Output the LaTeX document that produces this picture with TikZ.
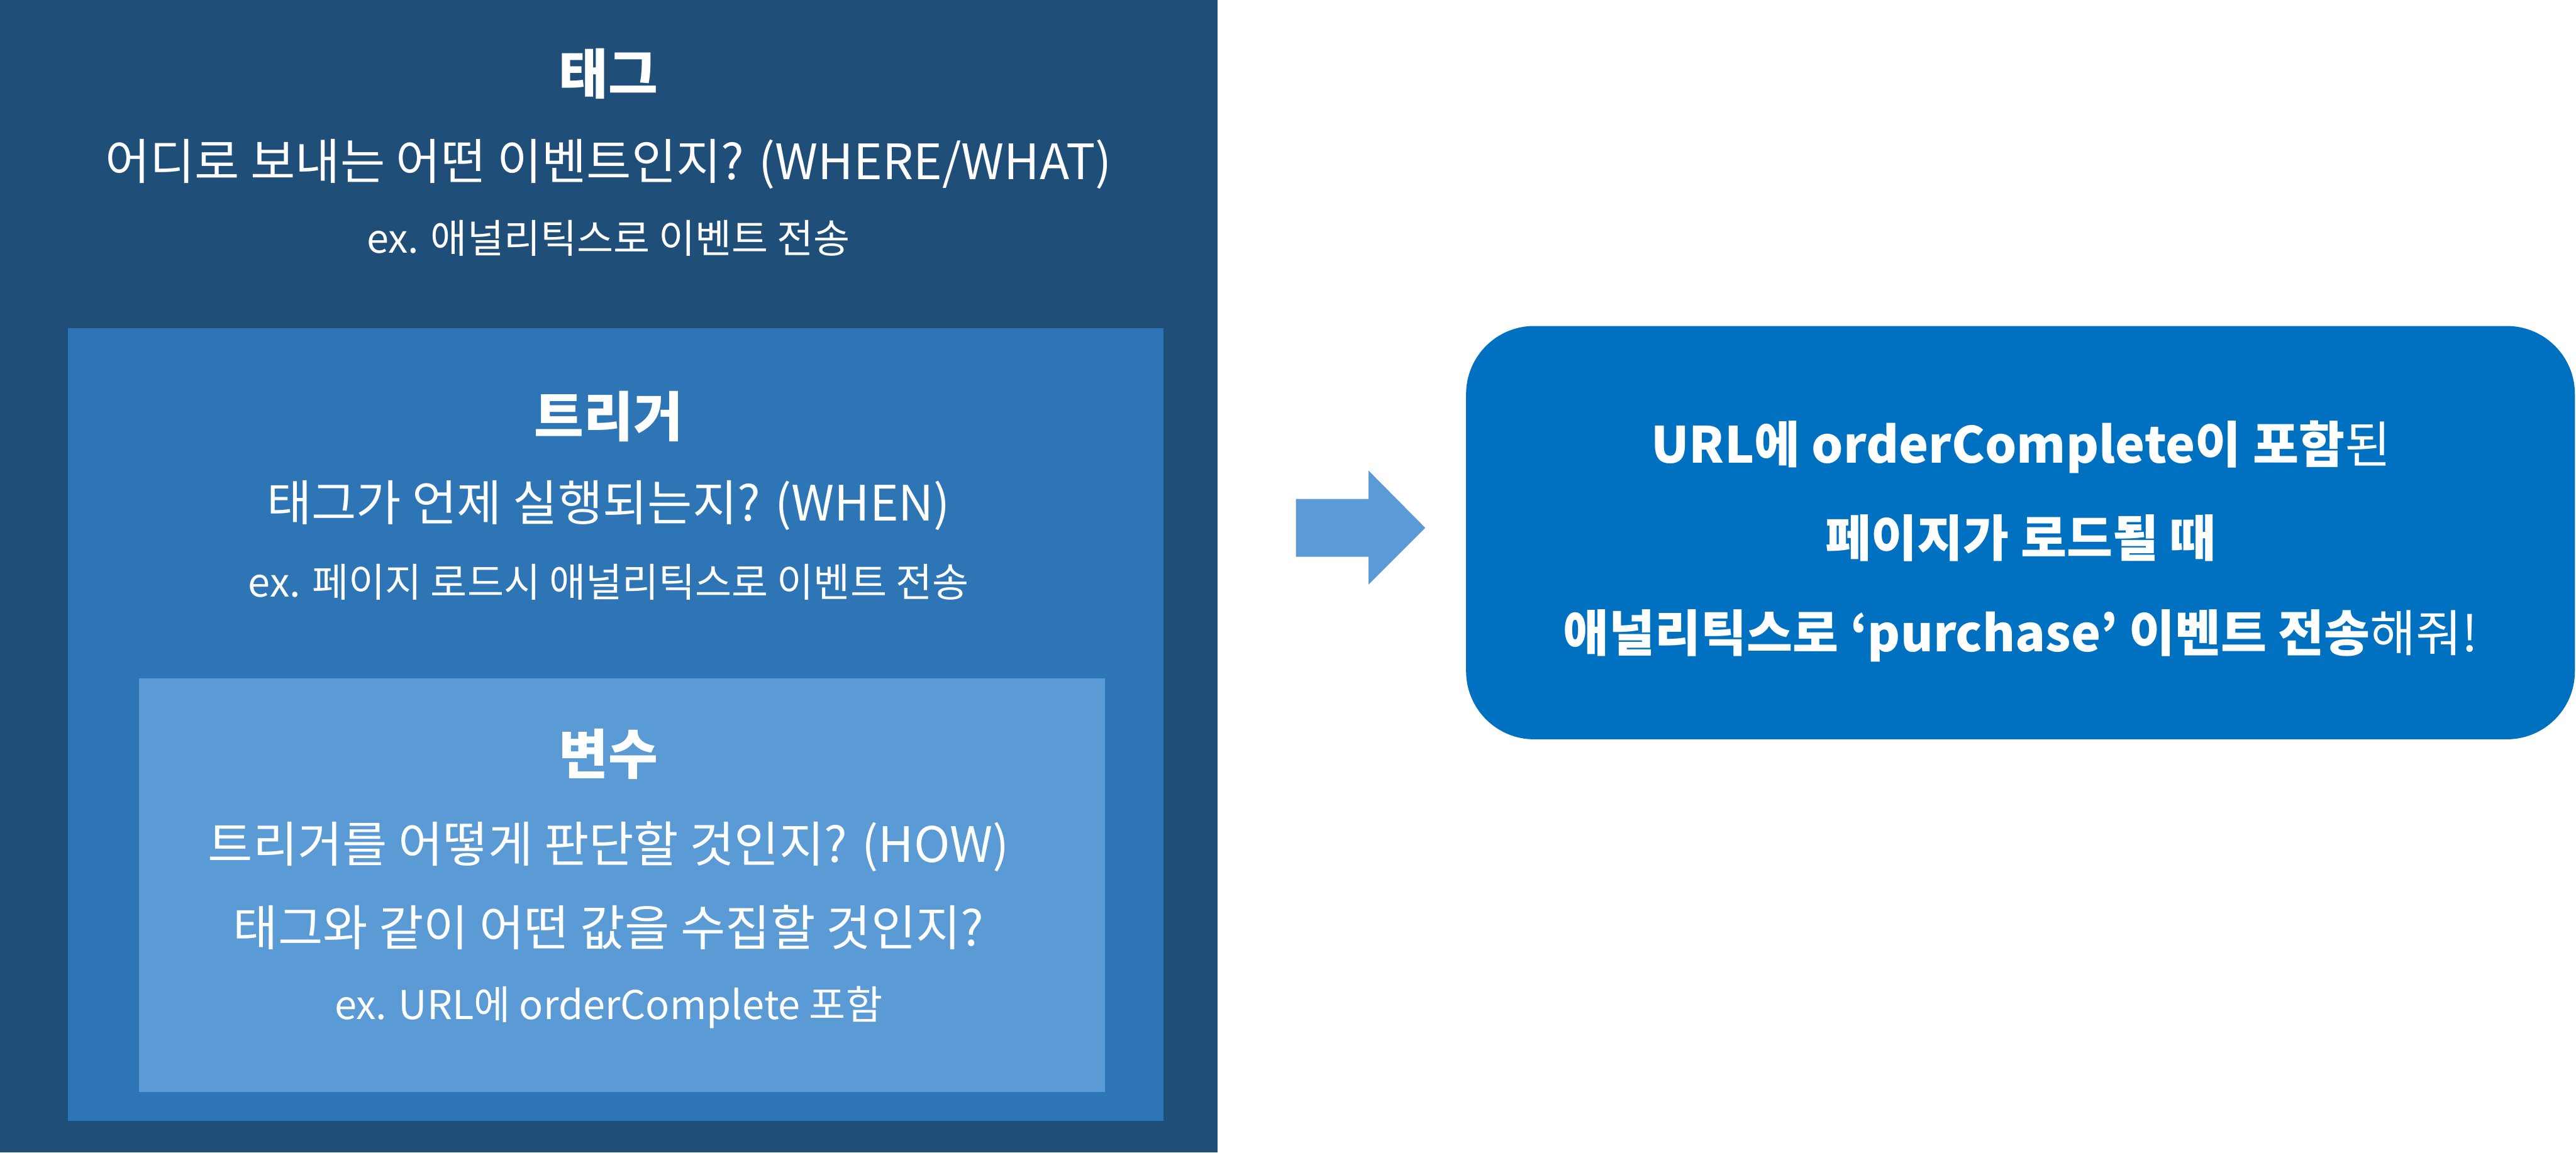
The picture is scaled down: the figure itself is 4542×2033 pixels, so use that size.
\documentclass[tikz,border=0pt]{standalone}
\usepackage{fontspec}
\setmainfont{Noto Sans CJK KR}
\definecolor{tagc}{HTML}{1F4E79}
\definecolor{trigc}{HTML}{2E75B6}
\definecolor{varc}{HTML}{5B9BD5}
\definecolor{arrc}{HTML}{5B9BD5}
\definecolor{resc}{HTML}{0070C0}
\tikzset{
  panel/.style={anchor=north west, inner sep=0pt, outer sep=0pt, draw=none},
  txt/.style={text=white, anchor=base, inner sep=0pt},
  ttl/.style={txt, font=\fontsize{95}{110}\selectfont\bfseries},
  mainl/.style={txt, font=\fontsize{86}{100}\selectfont},
  exl/.style={txt, font=\fontsize{70}{84}\selectfont},
  resl/.style={txt, font=\fontsize{88}{104}\selectfont},
}
\begin{document}
\begin{tikzpicture}[x=1pt,y=-1pt]
\useasboundingbox (0,0) rectangle (4542,2033);
\fill[white] (0,0) rectangle (4542,2033);
% panels
\node[panel, fill=tagc, minimum width=2147pt, minimum height=2033pt] (tag) at (0,0) {};
\node[panel, fill=trigc, minimum width=1931pt, minimum height=1398pt] (trig) at (120,579) {};
\node[panel, fill=varc, minimum width=1703pt, minimum height=730pt] (var) at (245,1196) {};
% tag texts
\node[ttl] (tagT) at (1073,166) {태그};
\node[mainl] (tagQ) at (1073,317) {어디로 보내는 어떤 이벤트인지? (WHERE/WHAT)};
\node[exl] (tagE) at (1073,446) {ex. 애널리틱스로 이벤트 전송};
% trigger texts
\node[ttl] (trigT) at (1073,770) {트리거};
\node[mainl] (trigQ) at (1073,919) {태그가 언제 실행되는지? (WHEN)};
\node[exl] (trigE) at (1073,1053) {ex. 페이지 로드시 애널리틱스로 이벤트 전송};
% variable texts
\node[ttl] (varT) at (1073,1366) {변수};
\node[mainl] (varQ1) at (1073,1521) {트리거를 어떻게 판단할 것인지? (HOW)};
\node[mainl] (varQ2) at (1073,1668) {태그와 같이 어떤 값을 수집할 것인지?};
\node[exl] (varE) at (1073,1798) {ex. URL에 orderComplete 포함};
% arrow
\fill[arrc] (2285,880) -- (2413,880) -- (2413,830) -- (2513,931) -- (2413,1031) -- (2413,982) -- (2285,982) -- cycle;
% result box
\node[panel, fill=resc, rounded corners=120pt, minimum width=1955pt, minimum height=729pt] (res) at (2585,575) {};
\node[resl] (res1) at (3563,817) {\textbf{URL에 orderComplete이 포함}된};
\node[resl] (res2) at (3563,982) {\textbf{페이지가 로드될 때}};
\node[resl] (res3) at (3563,1149) {\textbf{애널리틱스로 ‘purchase’ 이벤트 전송}해줘!};
\end{tikzpicture}
\end{document}
